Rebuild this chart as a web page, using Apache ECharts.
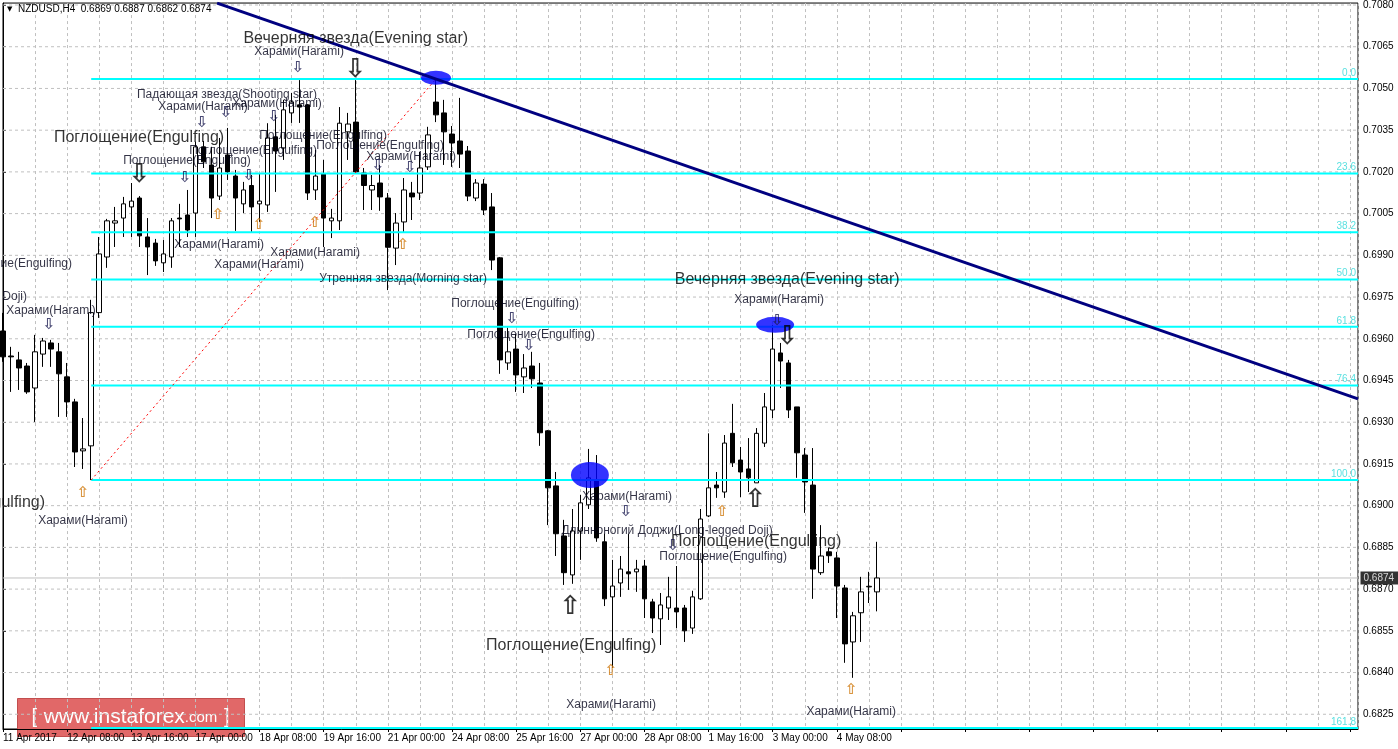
<!DOCTYPE html>
<html><head><meta charset="utf-8">
<script src="https://cdn.jsdelivr.net/npm/echarts@6/dist/echarts.min.js"></script>
<style>html,body{margin:0;padding:0;background:#fff}#c{width:1398px;height:749px}</style>
</head><body><div id="c"></div>
<script>
// ---- data ----
const tickLabels = ["11 Apr 2017","12 Apr 08:00","13 Apr 16:00","17 Apr 00:00","18 Apr 08:00","19 Apr 16:00","21 Apr 00:00","24 Apr 08:00","25 Apr 16:00","27 Apr 00:00","28 Apr 08:00","1 May 16:00","3 May 00:00","4 May 08:00"];
const totalSlots = 170;
const openVals = [0.69628,0.69538,0.69524,0.69502,0.69423,0.69545,0.69585,0.69553,0.69463,0.69373,
0.69197,0.69215,0.69694,0.69894,0.70016,0.70034,0.70074,0.70106,0.69966,0.69944,
0.69873,0.69894,0.70034,0.70045,0.70052,0.70290,0.70225,0.70113,0.70261,0.70185,
0.70085,0.70151,0.70085,0.70081,0.70326,0.70286,0.70412,0.70441,0.70441,0.70135,
0.70193,0.70024,0.70024,0.70344,0.70379,0.70196,0.70135,0.70160,0.70106,0.69926,
0.70020,0.70124,0.70124,0.70218,0.70451,0.70412,0.70336,0.70311,0.70275,0.70106,
0.70156,0.70074,0.69891,0.69513,0.69563,0.69463,0.69502,0.69441,0.69269,0.69071,
0.68891,0.68751,0.68909,0.69003,0.69092,0.68870,0.68672,0.68722,0.68762,0.68762,
0.68783,0.68654,0.68593,0.68632,0.68632,0.68632,0.68560,0.68665,0.68963,0.69074,
0.69049,0.69260,0.69164,0.69132,0.69082,0.69225,0.69344,0.69549,0.69513,0.69355,
0.69182,0.69074,0.68759,0.68834,0.68812,0.68704,0.68510,0.68615,0.68708,0.68690];
const closeVals = [0.69535,0.69535,0.69495,0.69409,0.69553,0.69592,0.69563,0.69474,0.69373,0.69193,
0.69204,0.69694,0.69905,0.70024,0.70024,0.70085,0.70095,0.69970,0.69930,0.69880,
0.69905,0.70024,0.70031,0.69991,0.70290,0.70236,0.70106,0.70214,0.70200,0.70106,
0.70135,0.70074,0.70095,0.70322,0.70275,0.70423,0.70451,0.70433,0.70124,0.70185,
0.70034,0.70034,0.70375,0.70372,0.70200,0.70151,0.70151,0.70110,0.69929,0.70016,
0.70135,0.70110,0.70214,0.70333,0.70405,0.70344,0.70304,0.70264,0.70113,0.70160,
0.70063,0.69883,0.69524,0.69553,0.69470,0.69495,0.69456,0.69262,0.69064,0.68899,
0.68759,0.68909,0.69010,0.69100,0.68884,0.68665,0.68711,0.68772,0.68755,0.68772,
0.68665,0.68596,0.68643,0.68672,0.68618,0.68550,0.68672,0.68952,0.69064,0.69064,
0.69225,0.69154,0.69121,0.69100,0.69260,0.69355,0.69563,0.69520,0.69344,0.69190,
0.69085,0.68772,0.68819,0.68820,0.68711,0.68503,0.68604,0.68690,0.68710,0.68740];
const lowVals = [0.69517,0.69409,0.69416,0.69402,0.69301,0.69499,0.69499,0.69319,0.69319,0.69139,
0.69132,0.69092,0.69675,0.69855,0.69930,0.69966,0.69966,0.69930,0.69829,0.69862,
0.69840,0.69855,0.69930,0.69966,0.69966,0.70214,0.70034,0.70099,0.70171,0.69988,
0.70052,0.69984,0.70020,0.70056,0.70128,0.70243,0.70376,0.70376,0.70099,0.70099,
0.69930,0.69962,0.69991,0.70243,0.70196,0.70063,0.70063,0.70060,0.69775,0.69865,
0.69984,0.70027,0.70099,0.70207,0.70379,0.70225,0.70218,0.70214,0.70095,0.70095,
0.70045,0.69847,0.69474,0.69488,0.69409,0.69405,0.69423,0.69215,0.68930,0.68819,
0.68715,0.68719,0.68805,0.68988,0.68870,0.68639,0.68416,0.68672,0.68697,0.68690,
0.68596,0.68542,0.68499,0.68589,0.68560,0.68510,0.68539,0.68661,0.68959,0.69028,
0.69028,0.69139,0.69031,0.69049,0.69082,0.69211,0.69315,0.69423,0.69315,0.69100,
0.68974,0.68665,0.68751,0.68794,0.68596,0.68435,0.68381,0.68510,0.68650,0.68620];
const highVals = [0.69693,0.69571,0.69553,0.69513,0.69614,0.69603,0.69596,0.69585,0.69513,0.69384,
0.69315,0.69740,0.69966,0.70031,0.70074,0.70110,0.70160,0.70113,0.70034,0.69959,
0.69955,0.70034,0.70085,0.70135,0.70308,0.70311,0.70290,0.70322,0.70358,0.70207,
0.70164,0.70189,0.70196,0.70375,0.70405,0.70459,0.70484,0.70530,0.70444,0.70279,
0.70243,0.70067,0.70433,0.70412,0.70530,0.70214,0.70189,0.70225,0.70124,0.70052,
0.70178,0.70164,0.70272,0.70362,0.70534,0.70459,0.70365,0.70466,0.70293,0.70174,
0.70174,0.70124,0.69894,0.69640,0.69617,0.69545,0.69553,0.69513,0.69272,0.69121,
0.68949,0.68988,0.69039,0.69204,0.69182,0.68899,0.68805,0.68819,0.68899,0.68805,
0.68805,0.68665,0.68686,0.68744,0.68783,0.68643,0.68694,0.68988,0.69260,0.69121,
0.69254,0.69366,0.69211,0.69243,0.69279,0.69405,0.69650,0.69585,0.69524,0.69355,
0.69207,0.69207,0.68930,0.68848,0.68834,0.68715,0.68618,0.68744,0.68762,0.68870];
const priceTicks = [0.6825,0.6840,0.6855,0.6870,0.6885,0.6900,0.6915,0.6930,0.6945,0.6960,0.6975,0.6990,0.7005,0.7020,0.7035,0.7050,0.7065,0.7080];
const fibLevels = [0.70534,0.70194,0.69983,0.69813,0.69643,0.69432,0.69092,0.68201];
const fibNames = ["0.0","23.6","38.2","50.0","61.8","76.4","100.0","161.8"];
const fibStartSlot = 11;
const trendLine = [[26.7,0.70807],[169,0.69384]];
const fibDiagonal = [[11,0.69092],[54,0.70534]];
const currentPrice = 0.6874;
const ellipseCenters = [[54,0.70538],[73.2,0.69110],[96.3,0.69650]];
const bigTexts = [["Вечерняя звезда(Evening star)",44.0,0.70681],["Поглощение(Engulfing)",16.97,0.70322],["Вечерняя звезда(Evening star)",97.8,0.69811],["Поглощение(Engulfing)",93.94,0.68870],["Поглощение(Engulfing)",70.86,0.68496]];
const bigCutTexts = [["Поглощение(Engulfing)",5.24,0.69010]];
const smallTexts = [["Харами(Harami)",36.93,0.70631],["Падающая звезда(Shooting star)",27.94,0.70476],["Харами(Harami)",24.95,0.70433],["Харами(Harami)",34.18,0.70444],["Поглощение(Engulfing)",39.92,0.70329],["Поглощение(Engulfing)",31.19,0.70275],["Поглощение(Engulfing)",47.03,0.70293],["Поглощение(Engulfing)",22.95,0.70239],["Харами(Harami)",50.90,0.70254],["Харами(Harami)",26.95,0.69937],["Харами(Harami)",38.92,0.69908],["Харами(Harami)",31.94,0.69865],["Утренняя звезда(Morning star)",49.90,0.69815],["Харами(Harami)",5.99,0.69700],["Харами(Harami)",96.8,0.69740],["Поглощение(Engulfing)",63.87,0.69725],["Поглощение(Engulfing)",65.87,0.69614],["Харами(Harami)",77.84,0.69031],["Длинноногий Доджи(Long-legged Doji)",82.83,0.68909],["Поглощение(Engulfing)",89.82,0.68816],["Харами(Harami)",75.85,0.68284],["Харами(Harami)",105.79,0.68258],["Харами(Harami)",9.98,0.68945]];
const smallCutTexts = [["Поглощение(Engulfing)",8.61,0.69869],["Длинноногий Доджи(Long-legged Doji)",2.99,0.69750]];
const smallDownArrows = [[22.70,0.70178],[24.83,0.70376],[27.82,0.70412],[33.81,0.70397],[30.69,0.70185],[36.80,0.70574],[46.78,0.70221],[50.77,0.70214],[5.74,0.69650],[63.50,0.69671],[65.62,0.69574],[77.72,0.68977],[83.58,0.68855],[96.56,0.69664]];
const smallUpArrows = [[9.98,0.69046],[26.82,0.70045],[31.94,0.70009],[38.92,0.70016],[49.90,0.69937],[75.85,0.68406],[89.70,0.68977],[105.79,0.68337]];
const bigDownArrows = [[16.97,0.70189],[43.91,0.70566],[97.80,0.69607]];
const bigUpArrows = [[70.73,0.68636],[93.81,0.69021]];

// ---- build ----
const Y_MIN = 0.68197, Y_MAX = 0.70807;
const slots = []; for (let i = 0; i < totalSlots; i++) slots.push(String(i));
const candles = openVals.map((o, i) => [o, closeVals[i], lowVals[i], highVals[i]]);
const LAST = totalSlots - 1;
const TXT = "'Liberation Sans', Arial, sans-serif";
const ARW = "'DejaVu Sans', sans-serif";
function textSeries(list, size, color, align) {
  return { type:'scatter', xAxisIndex:1, symbolSize:1, z:20, silent:true,
    itemStyle:{color:'rgba(0,0,0,0)'},
    data: list.map(t => ({ value:[t[1], t[2]], label:{ show:true, position:'inside', formatter:t[0], fontSize:size, color:color, fontFamily:TXT, align:align, verticalAlign:'middle' } })) };
}
function arrowSeries(list, glyph, size, color, weight) {
  return { type:'scatter', xAxisIndex:1, symbolSize:1, z:21, silent:true,
    itemStyle:{color:'rgba(0,0,0,0)'},
    data: list.map(p => ({ value:p, label:{ show:true, position:'inside', formatter:glyph, fontSize:size, fontWeight:weight, color:color, fontFamily:ARW, align:'center', verticalAlign:'middle' } })) };
}
function hLine(v, color, width, type, z) {
  return { type:'line', xAxisIndex:1, data:[[0, v], [LAST, v]], symbol:'none', silent:true, z:z,
    lineStyle:{color:color, width:width, type:type} };
}
const ellipseSizes = [[30,14],[38,26],[38,16]];

const series = [];
priceTicks.forEach(v => series.push(hLine(v, '#c0c0c0', 1, [3,3], 1)));
series.push(hLine(currentPrice, '#c0c0c0', 1, 'solid', 2));
series.push({ type:'scatter', xAxisIndex:1, symbolSize:1, z:30, silent:true, itemStyle:{color:'rgba(0,0,0,0)'},
  data:[{value:[LAST, currentPrice], label:{show:true, position:'right', distance:2, formatter:currentPrice.toFixed(4), backgroundColor:'#000', color:'#fff', fontSize:10, fontFamily:TXT, padding:[2,4,1,3]}}] });
series.push({ type:'candlestick', xAxisIndex:0, data:candles, barWidth:5, z:5,
  itemStyle:{color:'#fff', color0:'#000', borderColor:'#000', borderColor0:'#000', borderWidth:1} });
fibLevels.forEach(lv => series.push({ type:'line', xAxisIndex:1, data:[[fibStartSlot, lv], [LAST, lv]], symbol:'none', silent:true, z:8,
  lineStyle:{color:'#00ffff', width:2} }));
series.push({ type:'scatter', xAxisIndex:1, symbolSize:1, z:9, silent:true, itemStyle:{color:'rgba(0,0,0,0)'},
  data: fibLevels.map((lv, i) => ({ value:[LAST, lv], label:{show:true, position:'inside', formatter:fibNames[i], align:'right', verticalAlign:'bottom', offset:[-2,-1], color:'#30d8d8', fontSize:10, fontFamily:TXT} })) });
series.push({ type:'line', xAxisIndex:1, data:fibDiagonal, symbol:'none', silent:true, z:9,
  lineStyle:{color:'#ff0000', width:1, type:[2,3]} });
series.push({ type:'scatter', xAxisIndex:1, data:ellipseCenters.map((c, i) => ({value:c, symbolSize:ellipseSizes[i]})), symbol:'circle', silent:true, z:10,
  itemStyle:{color:'#0000ff'} });
series.push({ type:'line', xAxisIndex:1, data:trendLine, symbol:'none', silent:true, z:11,
  lineStyle:{color:'#000080', width:3} });
series.push(textSeries(bigTexts, 16, '#000', 'center'));
series.push(textSeries(bigCutTexts, 16, '#000', 'right'));
series.push(textSeries(smallTexts, 12, '#000018', 'center'));
series.push(textSeries(smallCutTexts, 12, '#000018', 'right'));
series.push(arrowSeries(smallDownArrows, '⇩', 15, '#1a1a50', 'bold'));
series.push(arrowSeries(smallUpArrows, '⇧', 15, '#d07a10', 'bold'));
series.push(arrowSeries(bigDownArrows, '⇩', 26, '#000', 'bold'));
series.push(arrowSeries(bigUpArrows, '⇧', 26, '#000', 'bold'));

const chart = echarts.init(document.getElementById('c'), null, {renderer:'canvas'});
chart.setOption({
  animation:false,
  backgroundColor:'#fff',
  grid:{left:3, right:40, top:3, bottom:20, show:true, borderColor:'#000', borderWidth:1, backgroundColor:'#fff'},
  xAxis:[{
    type:'category', data:slots, boundaryGap:false,
    axisLine:{lineStyle:{color:'#000', width:1}},
    axisTick:{interval:7, length:3, lineStyle:{color:'#000'}},
    axisLabel:{interval:7, align:'left', margin:4, fontSize:10, color:'#000', fontFamily:TXT,
      formatter:(v, i) => tickLabels[i / 8] || ''},
    splitLine:{show:false}
  },{
    type:'value', min:0, max:LAST, interval:4, show:true,
    axisLine:{show:false}, axisTick:{show:false}, axisLabel:{show:false},
    splitLine:{show:true, lineStyle:{color:'#c0c0c0', type:[3,3], width:1}}
  }],
  yAxis:{
    type:'value', position:'right', min:Y_MIN, max:Y_MAX,
    axisLine:{show:true, lineStyle:{color:'#000'}},
    axisTick:{show:true, length:3, customValues:priceTicks, lineStyle:{color:'#000'}},
    axisLabel:{customValues:priceTicks, formatter:v => v.toFixed(4), fontSize:10, color:'#000', fontFamily:TXT, margin:5},
    splitLine:{show:false}
  },
  graphic:[
    {type:'text', left:7, top:6, z:100, style:{text:'▼', fontSize:7, fill:'#000', fontFamily:ARW}},
    {type:'text', left:18, top:4, z:100, style:{text:'NZDUSD,H4  0.6869 0.6887 0.6862 0.6874', fontSize:10, fill:'#000', fontFamily:TXT}},
    {type:'group', left:17, top:698, z:100, children:[
      {type:'rect', shape:{x:0, y:0, width:227, height:38}, style:{fill:'#e16868', stroke:'#c24e4e', lineWidth:1}},
      {type:'text', style:{x:113, y:19, align:'center', verticalAlign:'middle',
        text:'{a|[}  {b|www.instaforex}{c|.com}  {a|]}',
        rich:{a:{fontSize:20, fill:'#fff', fontFamily:TXT}, b:{fontSize:21, fill:'#fff', fontFamily:TXT}, c:{fontSize:15, fill:'#fff', fontFamily:TXT}}}}
    ]}
  ],
  series: series
});
</script>
</body></html>
